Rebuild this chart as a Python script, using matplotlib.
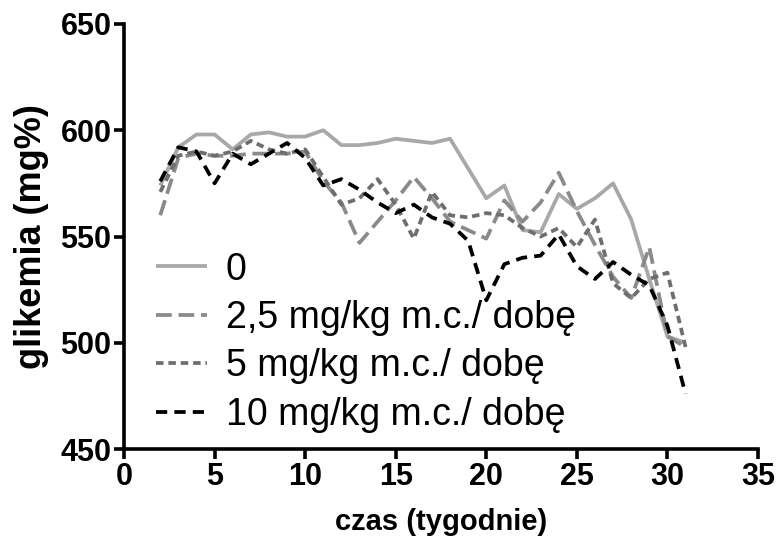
import matplotlib
matplotlib.use("Agg")
import matplotlib.pyplot as plt

weeks = list(range(2, 32))
g0 = [574, 592, 598, 598, 591, 598, 599, 597, 597, 600, 593, 593, 594, 596, 595, 594, 596, 582, 568, 574,
      553, 552, 570, 563, 568, 575, 558, 530, 503, 500]
g25 = [560, 587, 589, 588, 588, 589, 589, 589, 590, 576, 566, 547, 557, 567, 578, 568, 557, 553, 549, 567,
       557, 566, 580, 562, 546, 531, 521, 545, 503, 498]
g5 = [571, 588, 590, 588, 590, 595, 591, 589, 591, 578, 565, 568, 577, 565, 549, 571, 560, 559, 561, 560,
      554, 550, 554, 545, 558, 528, 521, 530, 533, 498]
g10 = [576, 592, 590, 575, 589, 584, 589, 594, 587, 574, 577, 572, 566, 561, 565, 559, 556, 548, 520, 537,
       540, 541, 551, 536, 530, 538, 532, 527, 508, 476]

labels = ["0", "2,5 mg/kg m.c./ dobę", "5 mg/kg m.c./ dobę", "10 mg/kg m.c./ dobę"]
xticks = [0, 5, 10, 15, 20, 25, 30, 35]
yticks = [450, 500, 550, 600, 650]

plt.rcParams['font.family'] = ['Liberation Sans', 'DejaVu Sans']

fig = plt.figure(figsize=(7.82, 5.45), dpi=100)
ax = fig.add_axes([0.1586, 0.1761, 0.8107, 0.7799])

lw = 2.7
ax.plot(weeks, g0, color="#a8a8a8", lw=lw, linestyle="-", label=labels[0], solid_capstyle="butt")
ax.plot(weeks, g25, color="#8a8a8a", lw=lw, dashes=(4.2, 1.8), label=labels[1])
ax.plot(weeks, g5, color="#6e6e6e", lw=lw, dashes=(2.0, 1.3), label=labels[2])
ax.plot(weeks, g10, color="#000000", lw=lw, dashes=(3.0, 1.9), label=labels[3])

ax.set_xlim(0, 35)
ax.set_ylim(450, 650)
ax.set_xticks(xticks)
ax.set_yticks(yticks)
ax.spines['top'].set_visible(False)
ax.spines['right'].set_visible(False)
for s in ['left', 'bottom']:
    ax.spines[s].set_linewidth(2.6)
ax.tick_params(axis='both', width=2.6, length=7, labelsize=22, pad=2)
for t in ax.get_xticklabels() + ax.get_yticklabels():
    t.set_fontweight('bold')

ax.set_xlabel("czas (tygodnie)", fontsize=21, fontweight='bold', labelpad=12)
ax.set_ylabel("glikemia (mg%)", fontsize=26, fontweight='bold', labelpad=8)

leg = ax.legend(loc='upper left', bbox_to_anchor=(0.027, 0.5), frameon=False, fontsize=27,
                handlelength=1.35, handletextpad=0.5, labelspacing=0.33, borderaxespad=0)

fig.savefig("out.png", dpi=100)
